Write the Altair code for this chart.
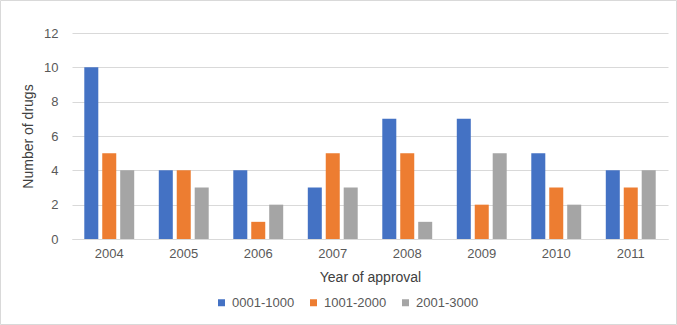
import altair as alt
import pandas as pd

years = ["2004", "2005", "2006", "2007", "2008", "2009", "2010", "2011"]
series = ["0001-1000", "1001-2000", "2001-3000"]
s1 = [10, 4, 4, 3, 7, 7, 5, 4]
s2 = [5, 4, 1, 5, 5, 2, 3, 3]
s3 = [4, 3, 2, 3, 1, 5, 2, 4]
colors = ["#4472C4", "#ED7D31", "#A5A5A5"]

rows = []
for name, vals in zip(series, [s1, s2, s3]):
    for y, v in zip(years, vals):
        rows.append({"year": y, "series": name, "value": v})
df = pd.DataFrame(rows)

W, H = 596, 206
FONT = "Liberation Sans"

bars = alt.Chart(df).mark_bar().encode(
    x=alt.X("year:N", sort=years, title="Year of approval",
            scale=alt.Scale(paddingInner=0.33, paddingOuter=0.165),
            axis=alt.Axis(labelAngle=0, ticks=False, domain=True, domainColor="#D9D9D9",
                          labelPadding=8, titlePadding=10, grid=False)),
    xOffset=alt.XOffset("series:N", sort=series,
                        scale=alt.Scale(paddingInner=0.22, paddingOuter=0)),
    y=alt.Y("value:Q", title="Number of drugs",
            scale=alt.Scale(domain=[0, 12], nice=False),
            axis=alt.Axis(values=[0, 2, 4, 6, 8, 10, 12], ticks=False, domain=False,
                          labelPadding=14, titlePadding=8, gridColor="#D9D9D9")),
    color=alt.Color("series:N", sort=series, title=None,
                    scale=alt.Scale(domain=series, range=colors),
                    legend=alt.Legend(orient="none", legendX=143, legendY=263,
                                      direction="horizontal", symbolType="square",
                                      symbolSize=49, symbolStrokeWidth=0,
                                      columnPadding=12, labelFontSize=13,
                                      labelOffset=4,
                                      labelColor="#595959", labelFont=FONT)),
)

border = alt.Chart(alt.Data(values=[{"a": 1}])).mark_rect(
    fill=None, stroke="#D9D9D9", strokeWidth=1, clip=False
).encode(
    x=alt.value(-71.5), x2=alt.value(W + 8.5),
    y=alt.value(-32.5), y2=alt.value(H + 85.5),
)

chart = alt.layer(bars, border).properties(
    width=W, height=H,
    autosize=alt.AutoSizeParams(type="none"),
    padding={"left": 72, "top": 33, "right": 9, "bottom": 86},
    background="white",
).configure_view(stroke=None).configure_axis(
    labelFont=FONT, titleFont=FONT, labelFontSize=13, titleFontSize=14,
    labelColor="#595959", titleColor="#404040", titleFontWeight="normal",
)

chart.save("out.html", embed_options={"renderer": "svg", "actions": False})
